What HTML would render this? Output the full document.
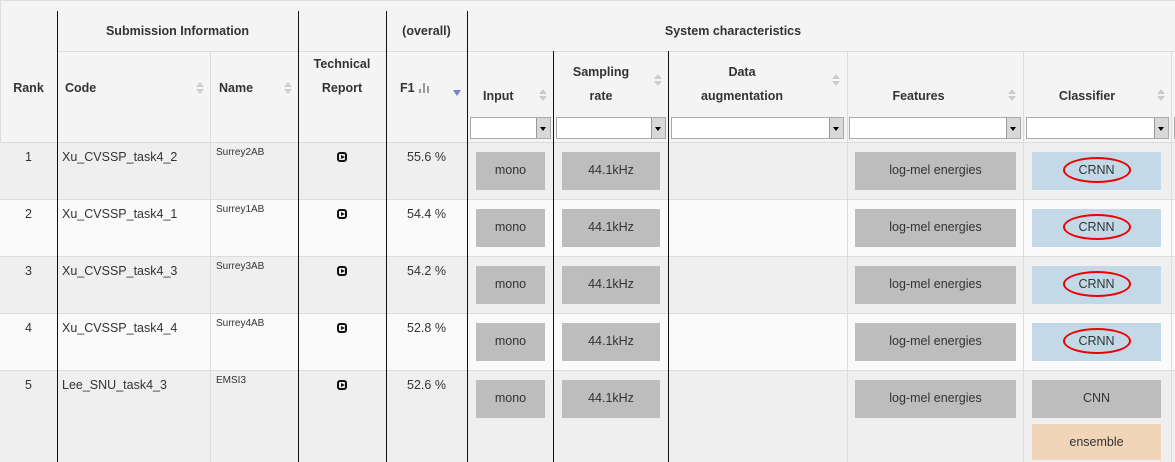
<!DOCTYPE html>
<html><head><meta charset="utf-8">
<style>
html,body{margin:0;padding:0;width:1175px;height:462px;overflow:hidden;background:#fff;font-family:"Liberation Sans",sans-serif;color:#333;}
#t{position:absolute;left:0;top:0;width:1175px;height:462px;overflow:hidden;}
.a{position:absolute;box-sizing:border-box;}
.hdr{font-weight:bold;font-size:12.5px;text-align:center;line-height:24px;color:#333;}
.vb{position:absolute;width:1px;background:#111;}
.vg{position:absolute;width:1px;background:#dcdcdc;}
.hg{position:absolute;height:1px;background:#dcdcdc;}
.box{position:absolute;background:#bdbdbd;font-size:12.5px;text-align:center;color:#333;}
.sel{position:absolute;top:117px;height:22px;background:#fff;border:1px solid #aaa;box-sizing:border-box;}
.sel i{position:absolute;right:0;top:0;width:13px;height:20px;background:#d8d8d8;border-left:1px solid #999;}
.sel i:after{content:"";position:absolute;left:3px;top:9px;border-left:3.5px solid transparent;border-right:3.5px solid transparent;border-top:4px solid #000;}
.sort{position:absolute;width:8px;height:14px;}
.sort:before{content:"";position:absolute;left:0;top:0;border-left:4px solid transparent;border-right:4px solid transparent;border-bottom:5px solid #ccc;}
.sort:after{content:"";position:absolute;left:0;top:7px;border-left:4px solid transparent;border-right:4px solid transparent;border-top:5px solid #ccc;}
.cell{position:absolute;font-size:12.5px;}
.bar{position:absolute;width:2px;background:#999;bottom:0;}
</style></head><body>
<div id="t">
<div class="a" style="left:0;top:0;width:1175px;height:142px;background:#f4f4f4;border-top:1px solid #ddd;border-left:1px solid #ddd"></div>
<div id="rows"></div>
<div class="hg" style="left:57px;top:51px;width:410px"></div>
<div class="hg" style="left:467px;top:51px;width:708px"></div>
<div class="hg" style="left:0;top:142px;width:1175px"></div>
<div class="hdr a" style="left:0;top:76px;width:57px">Rank</div>
<div class="hdr a" style="left:57px;top:19px;width:241px">Submission Information</div>
<div class="hdr a" style="left:65px;top:76px;text-align:left">Code</div>
<div class="sort" style="left:196px;top:82px"></div>
<div class="hdr a" style="left:219px;top:76px;text-align:left">Name</div>
<div class="sort" style="left:284px;top:82px"></div>
<div class="hdr a" style="left:298px;top:52px;width:88px">Technical<br>Report</div>
<div class="hdr a" style="left:386px;top:19px;width:81px">(overall)</div>
<div class="hdr a" style="left:400px;top:76px;text-align:left">F1</div>
<div class="a" style="left:419px;top:83px;width:12px;height:10px"><div class="bar" style="left:0;height:4px"></div><div class="bar" style="left:4px;height:10px"></div><div class="bar" style="left:8px;height:7px"></div></div>
<div class="a" style="left:453px;top:90px;border-left:4px solid transparent;border-right:4px solid transparent;border-top:6px solid #7b7fd0"></div>
<div class="hdr a" style="left:467px;top:19px;width:708px;padding-right:176px">System characteristics</div>
<div class="hdr a" style="left:483px;top:84px;text-align:left">Input</div>
<div class="sort" style="left:539px;top:89px"></div>
<div class="hdr a" style="left:553px;top:60px;width:96px">Sampling<br>rate</div>
<div class="sort" style="left:654px;top:74px"></div>
<div class="hdr a" style="left:668px;top:60px;width:148px">Data<br>augmentation</div>
<div class="sort" style="left:832px;top:74px"></div>
<div class="hdr a" style="left:847px;top:84px;width:143px">Features</div>
<div class="sort" style="left:1008px;top:89px"></div>
<div class="hdr a" style="left:1024px;top:84px;width:126px">Classifier</div>
<div class="sort" style="left:1157px;top:89px"></div>
<div class="sel" style="left:470px;width:81px"><i></i></div>
<div class="sel" style="left:556px;width:110px"><i></i></div>
<div class="sel" style="left:671px;width:173px"><i></i></div>
<div class="sel" style="left:849px;width:172px"><i></i></div>
<div class="sel" style="left:1026px;width:143px"><i></i></div>
<div class="sel" style="left:1174px;width:10px"></div>
<div class="vg" style="left:210px;top:51px;height:411px"></div>
<div class="vg" style="left:847px;top:51px;height:411px"></div>
<div class="vg" style="left:1023px;top:51px;height:411px"></div>
<div class="vg" style="left:1171px;top:51px;height:411px"></div>
<div class="vb" style="left:57px;top:11px;height:451px"></div>
<div class="vb" style="left:298px;top:11px;height:451px"></div>
<div class="vb" style="left:386px;top:11px;height:451px"></div>
<div class="vb" style="left:467px;top:11px;height:451px"></div>
<div class="vb" style="left:553px;top:51px;height:411px"></div>
<div class="vb" style="left:668px;top:51px;height:411px"></div>
</div>
<script>
const ranks=[1,2,3,4,5];
const codes=["Xu_CVSSP_task4_2","Xu_CVSSP_task4_1","Xu_CVSSP_task4_3","Xu_CVSSP_task4_4","Lee_SNU_task4_3"];
const names=["Surrey2AB","Surrey1AB","Surrey3AB","Surrey4AB","EMSI3"];
const f1=[55.6,54.4,54.2,52.8,52.6];
const inputs=["mono","mono","mono","mono","mono"];
const rates=["44.1kHz","44.1kHz","44.1kHz","44.1kHz","44.1kHz"];
const feats=["log-mel energies","log-mel energies","log-mel energies","log-mel energies","log-mel energies"];
const classifiers=[["CRNN"],["CRNN"],["CRNN"],["CRNN"],["CNN","ensemble"]];
const R=document.getElementById('rows');
function mk(cls,css,txt){const d=document.createElement('div');d.className=cls;d.style.cssText=css;if(txt!=null)d.textContent=txt;R.appendChild(d);return d;}
ranks.forEach((rk,i)=>{
  const y=142+i*57, h=(i==4)?(462-y):57;
  const row=mk('a','left:0;top:'+y+'px;width:1175px;height:'+h+'px;background:'+(i%2==0?'#efefef':'#fafafa'));
  
  
  if(i>0){mk('hg','left:0;top:'+y+'px;width:1175px');}
  const c1=mk('cell','left:0;width:57px;text-align:center;top:'+(y+8)+'px',String(rk));
  
  
  const c2=mk('cell','left:62px;top:'+(y+8)+'px',codes[i]);
  
  
  const c3=mk('cell','left:216px;top:'+(y+5)+'px;font-size:10px',names[i]);
  
  
  const ic=mk('a','left:337px;top:'+(y+10)+'px;width:10px;height:10px;border:2px solid #111;border-radius:3px');
  
  
  const tri=document.createElement('div');tri.style.cssText='position:absolute;left:2px;top:1px;border-top:2.5px solid transparent;border-bottom:2.5px solid transparent;border-left:4px solid #111';ic.appendChild(tri);
  const c4=mk('cell','left:386px;width:81px;text-align:center;top:'+(y+8)+'px',f1[i].toFixed(1)+' %');
  
  
  const b1=mk('box','left:476px;top:'+(y+10)+'px;width:69px;height:38px;line-height:36px',inputs[i]);
  
  
  const b2=mk('box','left:562px;top:'+(y+10)+'px;width:98px;height:38px;line-height:36px',rates[i]);
  
  
  const b3=mk('box','left:855px;top:'+(y+10)+'px;width:161px;height:38px;line-height:36px',feats[i]);
  
  
  classifiers[i].forEach((c,j)=>{
    const bg=c=='CRNN'?'#c4d9e8':(c=='ensemble'?'#f0d5b8':'#bdbdbd');
    const b=mk('box','left:1032px;top:'+(y+10+j*44)+'px;width:129px;height:'+(j?36:38)+'px;line-height:36px;background:'+bg,c);
    
    
    if(c=='CRNN'){const e=document.createElement('div');e.style.cssText='position:absolute;left:31px;top:5px;width:68px;height:26px;border:2.5px solid #e00;border-radius:50%;box-sizing:border-box';b.appendChild(e);
      
      }
  });
});
</script>
</body></html>
